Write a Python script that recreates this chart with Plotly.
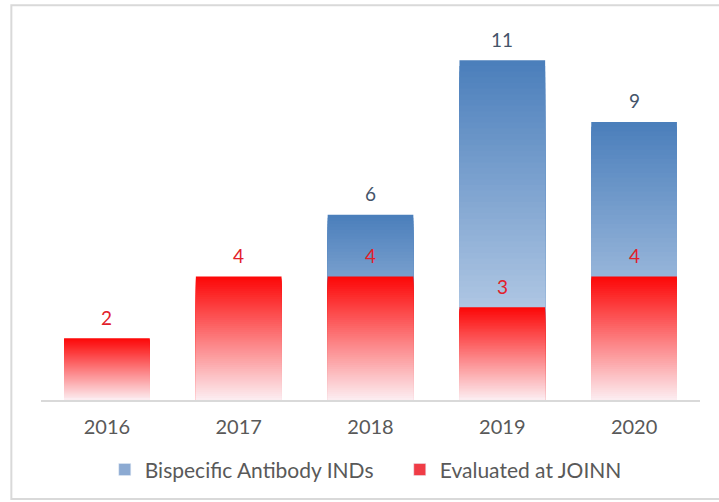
import plotly.graph_objects as go

# data
years = ["2016", "2017", "2018", "2019", "2020"]
bispecific_inds = [None, None, 6, 11, 9]
evaluated_joinn = [2, 4, 4, 3, 4]

BLUE_TOP = (74, 126, 187)
BLUE_BOTTOM = (212, 225, 242)
RED_TOP = (252, 6, 6)
RED_BOTTOM = (252, 238, 242)
N_STEPS = 60


def mix(c0, c1, t):
    return "rgb({},{},{})".format(*[round(a + (b - a) * t) for a, b in zip(c0, c1)])


def add_gradient_bars(fig, values, bottom, top):
    """Fake a vertical gradient: stack of bars from 0, tallest (darkest) first."""
    for k in range(N_STEPS - 1, -1, -1):
        t = (k + 0.5) / N_STEPS
        fig.add_trace(go.Bar(
            x=years,
            y=[v * (k + 1) / N_STEPS if v else None for v in values],
            marker=dict(color=mix(bottom, top, t), line=dict(width=0)),
            showlegend=False,
            hoverinfo="skip",
        ))


fig = go.Figure()
add_gradient_bars(fig, bispecific_inds, BLUE_BOTTOM, BLUE_TOP)
add_gradient_bars(fig, evaluated_joinn, RED_BOTTOM, RED_TOP)

# value labels (x given as category index: the year strings look numeric)
for values, color in [(bispecific_inds, "#44546a"), (evaluated_joinn, "#e2202a")]:
    for i, v in enumerate(values):
        if v:
            fig.add_annotation(x=i, y=v, text=str(v), showarrow=False,
                               yanchor="middle", yshift=21,
                               font=dict(color=color, size=19))

# legend entries
fig.add_trace(go.Bar(x=[None], y=[None], name="Bispecific Antibody INDs",
                     marker_color="rgb(140,170,210)"))
fig.add_trace(go.Bar(x=[None], y=[None], name="Evaluated at JOINN",
                     marker_color="rgb(240,60,70)"))

fig.update_layout(
    width=719, height=502,
    barmode="overlay",
    bargap=0.35,
    font=dict(family="Lato, sans-serif", color="#595959", size=19),
    margin=dict(l=41, r=19, t=25, b=102),
    plot_bgcolor="white",
    paper_bgcolor="white",
    legend=dict(orientation="h", xref="container", yref="container",
                x=0.556, xanchor="center", y=0.064, yanchor="middle",
                font=dict(size=21), itemwidth=30, entrywidth=250,
                traceorder="normal"),
    shapes=[dict(type="rect", xref="paper", yref="paper",
                 x0=-0.045, x1=1.05, y0=-0.264, y1=1.053,
                 line=dict(color="#d9d9d9", width=2))],
)
fig.update_xaxes(type="category", categoryorder="array", categoryarray=years,
                 range=[-0.5, len(years) - 0.5], automargin=False,
                 showline=True, linecolor="#d9d9d9", linewidth=2,
                 ticks="outside", ticklen=8, tickcolor="rgba(0,0,0,0)",
                 tickfont=dict(size=20))
fig.update_yaxes(visible=False, range=[0, 12.14], automargin=False)

fig.write_html("out.html", config={"displayModeBar": False},
               post_script="document.body.style.margin='0';")
